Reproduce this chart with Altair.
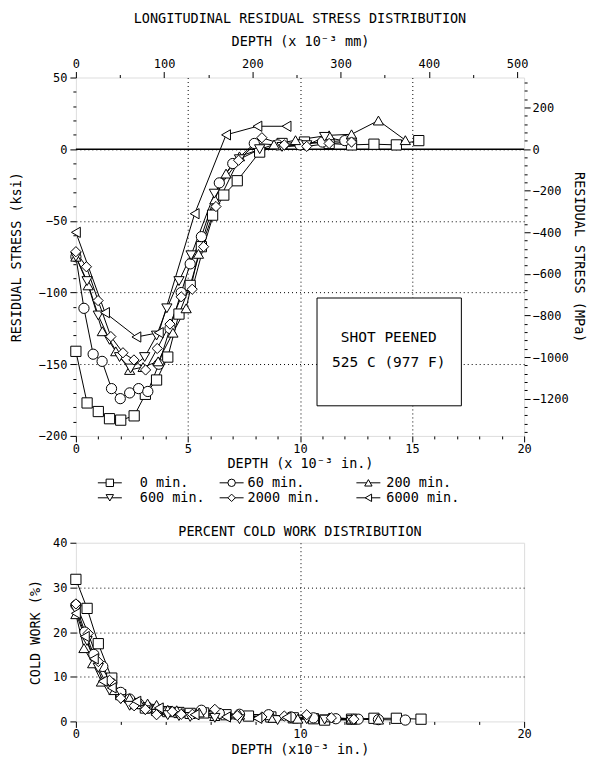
import altair as alt
import pandas as pd

FONT = "DejaVu Sans Mono"
SERIES = ["0 min.", "60 min.", "200 min.", "600 min.", "2000 min.", "6000 min."]
SHAPES = ["square", "circle", "triangle-up", "triangle-down", "diamond", "triangle-left"]

# ---- Longitudinal residual stress (ksi) vs depth (x10^-3 in.) ----
rs_d_0 = [0, 0.5, 1.0, 1.5, 2.0, 2.6, 3.1, 3.6, 4.1, 4.6, 5.1, 5.6, 6.1, 6.6, 7.2, 8.2, 9.2, 10.2, 11.3, 12.3, 13.3, 14.3, 15.3]
rs_s_0 = [-141, -177, -183, -188, -189, -186, -171, -161, -145, -115, -95, -68, -46, -32, -22, -2, 4, 5, 4, 3, 3.5, 3, 6]
rs_d_60 = [0, 0.36, 0.77, 1.17, 1.59, 1.98, 2.4, 2.8, 3.21, 3.7, 4.2, 4.7, 5.1, 5.6, 6.4, 7.0, 7.96, 9.0, 10.0, 11.0, 12.0]
rs_s_60 = [-75, -111, -143, -148, -167, -174, -170, -167, -169, -150, -125, -100, -80, -61, -23.5, -10, 4, 3, 3, 5, 6]
rs_d_200 = [0, 0.55, 1.18, 1.78, 2.4, 3.0, 3.67, 4.33, 4.92, 5.47, 6.2, 6.7, 7.3, 8.84, 9.8, 11.3, 12.3, 13.5, 14.7]
rs_s_200 = [-75, -95, -127, -141, -154, -152, -148, -128, -111, -73, -35, -17, -5, 3.3, 6.3, 9.7, 10.4, 20, 6.3]
rs_d_600 = [0, 0.5, 1.0, 1.5, 1.95, 2.44, 3.07, 3.6, 4.06, 4.6, 5.14, 6.18, 7.3, 8.2, 9.2, 10.3, 11.1, 12.3]
rs_s_600 = [-75, -92, -116, -133, -145, -153, -145, -130, -111, -92, -74, -31, -7, 0, 1.6, 2.8, 8.6, 4.6]
rs_d_2000 = [0, 0.47, 0.99, 1.56, 2.1, 2.59, 3.11, 3.63, 4.2, 4.7, 5.19, 5.7, 6.25, 7.26, 8.3, 9.3, 10.3, 11.3, 12.3]
rs_s_2000 = [-71.5, -82, -105.6, -130.7, -142, -147, -154, -139, -122, -103, -97.7, -68, -40, -7.7, 8, 3, 2, 4, 5]
rs_d_6000 = [0, 1.3, 2.7, 3.7, 5.3, 6.7, 8.1, 9.4]
rs_s_6000 = [-58, -114, -131, -128, -45, 10, 16, 16]

# ---- Percent cold work vs depth (x10^-3 in.) ----
cw_d_0 = [0, 0.5, 1.0, 1.6, 2.0, 2.6, 3.1, 3.6, 4.1, 4.6, 5.1, 5.7, 6.7, 7.7, 8.7, 9.7, 10.6, 11.1, 12.3, 13.3, 14.3, 15.4]
cw_v_0 = [31.8, 25.3, 17.4, 9.7, 6.0, 4.0, 3.0, 2.5, 2.2, 2.0, 1.8, 1.9, 1.5, 1.2, 1.0, 0.8, 0.6, 0.3, 0.5, 0.7, 0.7, 0.5]
cw_d_60 = [0, 0.4, 0.8, 1.2, 1.6, 2.0, 2.4, 2.8, 3.2, 3.6, 4.1, 4.6, 5.6, 6.4, 7.3, 8.6, 9.6, 10.6, 11.6, 12.6, 13.5, 14.7]
cw_v_60 = [26, 20, 15, 12.3, 8.5, 6.5, 5, 4, 3, 2.5, 2.2, 2, 2.5, 1.8, 1.6, 1.5, 1.0, 0.8, 0.6, 0.5, 0.4, 0.3]
cw_d_200 = [0, 0.36, 0.75, 1.14, 1.7, 2.4, 2.8, 3.2, 3.6, 4.1, 4.5, 5.5, 6.2, 7.3, 8.8, 9.9, 11.3, 12.3, 13.5]
cw_v_200 = [24, 16.4, 13, 8.9, 7, 5.2, 4.5, 4, 3.7, 2.6, 2.5, 2, 1.2, 1.5, 0.8, 0.6, 0.9, 0.6, 0.4]
cw_d_600 = [0, 0.5, 1.0, 1.5, 2.0, 2.4, 3.1, 3.6, 4.1, 4.6, 5.1, 6.2, 7.3, 9.0, 10.3, 11.1, 12.3]
cw_v_600 = [25, 18, 12, 7, 5, 3.5, 2.5, 1.7, 1.4, 1.2, 1.0, 0.8, 0.5, 0.3, 0.5, 0.4, 0.3]
cw_d_2000 = [0, 0.55, 1.0, 1.5, 2.0, 2.6, 3.1, 3.6, 4.3, 4.7, 5.2, 6.2, 7.2, 8.3, 9.3, 10.3, 11.4, 12.4]
cw_v_2000 = [26.3, 19.7, 13.4, 9.2, 5.2, 3.5, 2.7, 1.5, 2.2, 1.6, 1.6, 2.7, 1.3, 1.0, 1.2, 1.5, 0.8, 0.5]
cw_d_6000 = [0, 0.4, 0.8, 1.2, 1.6, 2.7, 3.7, 5.3, 6.7, 8.1, 9.4]
cw_v_6000 = [24.2, 19, 14, 9, 7.5, 4.5, 3, 1.5, 1, 0.7, 0.9]

ANNOT_LINES = ["SHOT PEENED", "525 C (977 F)"]

# ---------------- layout / style constants ----------------
W = 449
H1 = 359
H2 = 179
FS = 12      # tick labels
TFS = 13.5   # titles / legend
KSI_TO_MPA = 6.894757
IN_TO_MM = 25.4


def long_df(depths, values):
    rows = []
    for s, dl, vl in zip(SERIES, depths, values):
        for i, (d, v) in enumerate(zip(dl, vl)):
            rows.append({"series": s, "depth": d, "value": v, "i": i})
    return pd.DataFrame(rows)


rs_df = long_df([rs_d_0, rs_d_60, rs_d_200, rs_d_600, rs_d_2000, rs_d_6000],
                [rs_s_0, rs_s_60, rs_s_200, rs_s_600, rs_s_2000, rs_s_6000])
cw_df = long_df([cw_d_0, cw_d_60, cw_d_200, cw_d_600, cw_d_2000, cw_d_6000],
                [cw_v_0, cw_v_60, cw_v_200, cw_v_600, cw_v_2000, cw_v_6000])

AX = dict(labelFont=FONT, titleFont=FONT, labelFontSize=FS, titleFontSize=TFS,
          titleFontWeight="normal", labelColor="black", titleColor="black",
          tickColor="black", labelOverlap=False, labelFlush=False, domain=False,
          tickWidth=1, format="d")


def cond(test, a, b):
    return {"condition": {"test": test, "value": a}, "value": b}


def make_axis(orient, title, values, major, lo=None, hi=None, grid=False, **kw):
    major_test = f"datum.value % {major} === 0"
    params = dict(AX)
    params.update(kw)
    ax = dict(orient=orient, title=title, values=values,
              labelExpr=f"{major_test} ? datum.label : ''",
              tickSize=cond(major_test, 6, 3), **params)
    if grid:
        ax.update(grid=True, gridColor="black", gridDash=[1, 3], gridWidth=1,
                  gridOpacity=cond(f"{major_test} && datum.value > {lo} && datum.value < {hi}", 1, 0))
    else:
        ax.update(grid=False)
    return alt.Axis(**ax)


x_in = alt.Scale(domain=[0, 20], nice=False, zero=False)
y_ksi = alt.Scale(domain=[-200, 50], nice=False, zero=False)
x_mm = alt.Scale(domain=[0, 20 * IN_TO_MM], nice=False, zero=False)
y_mpa = alt.Scale(domain=[-200 * KSI_TO_MPA, 50 * KSI_TO_MPA], nice=False, zero=False)
shape_scale = alt.Scale(domain=SERIES, range=SHAPES)

ax_bottom1 = make_axis("bottom", "DEPTH (x 10⁻³ in.)", list(range(0, 21)), 5, 0, 20, grid=True,
                       labelPadding=2, titlePadding=2)
ax_left1 = make_axis("left", "RESIDUAL STRESS (ksi)", list(range(-200, 51, 10)), 50, -200, 50, grid=True,
                     labelPadding=3, titlePadding=15)
ax_top1 = make_axis("top", "DEPTH (x 10⁻³ mm)", list(range(0, 501, 50)), 100,
                    labelPadding=1, titlePadding=9)
ax_right1 = make_axis("right", "RESIDUAL STRESS (MPa)", list(range(-1360, 321, 40)), 200,
                      labelPadding=2, titlePadding=3)

base1 = alt.Chart(rs_df)
lines1 = base1.mark_line(color="black", strokeWidth=1).encode(
    x=alt.X("depth:Q", scale=x_in, axis=ax_bottom1),
    y=alt.Y("value:Q", scale=y_ksi, axis=ax_left1),
    detail="series:N",
    order="i:Q",
)
points1 = base1.mark_point(filled=True, fill="white", stroke="black", strokeWidth=1,
                           size=105, opacity=1).encode(
    x=alt.X("depth:Q", scale=x_in, axis=None),
    y=alt.Y("value:Q", scale=y_ksi, axis=None),
    shape=alt.Shape("series:N", scale=shape_scale, legend=None),
)
zero_df = pd.DataFrame({"zero": [0]})
zero_rule = alt.Chart(zero_df).mark_rule(color="black", strokeWidth=1.5).encode(
    y=alt.Y("zero:Q", scale=y_ksi, axis=None),
)
box_df = pd.DataFrame({"x1": [10.76], "x2": [17.2], "y1": [-103.8], "y2": [-179]})
box = alt.Chart(box_df).mark_rect(fill="white", stroke="black", strokeWidth=1).encode(
    x=alt.X("x1:Q", scale=x_in, axis=None), x2="x2:Q",
    y=alt.Y("y1:Q", scale=y_ksi, axis=None), y2="y2:Q",
)
annot_df = pd.DataFrame({"text": ANNOT_LINES, "xd": [13.96, 13.96], "ys": [-131.5, -149]})
annot = alt.Chart(annot_df).mark_text(font=FONT, fontSize=14.5, color="black").encode(
    x=alt.X("xd:Q", scale=x_in, axis=None),
    y=alt.Y("ys:Q", scale=y_ksi, axis=None),
    text="text:N",
)
sec_df = pd.DataFrame({"mm": [0], "mpa": [0]})
sec_axes = alt.Chart(sec_df).mark_point(opacity=0).encode(
    x=alt.X("mm:Q", scale=x_mm, axis=ax_top1),
    y=alt.Y("mpa:Q", scale=y_mpa, axis=ax_right1),
)

top = alt.layer(lines1, zero_rule, points1, box, annot, sec_axes).resolve_scale(
    x="independent", y="independent"
).properties(
    width=W, height=H1,
    title=alt.TitleParams("LONGITUDINAL RESIDUAL STRESS DISTRIBUTION", font=FONT, fontSize=TFS,
                          fontWeight="normal", color="black", offset=9),
)

# ---------------- legend (line + marker samples) ----------------
SYM_X = [34, 156, 293]
TXT_X = [64, 172, 311]
ROW_Y = [6, 21]
LEG_H = 43
HALF = 12
leg_df = pd.DataFrame({"series": SERIES, "k": list(range(len(SERIES)))})
leg_base = alt.Chart(leg_df).transform_calculate(
    col="datum.k % 3", row="floor(datum.k / 3)"
).transform_calculate(
    sx=f"{SYM_X}[datum.col]", tx=f"{TXT_X}[datum.col]", ry=f"{ROW_Y}[datum.row]"
).transform_calculate(
    sx1=f"datum.sx - {HALF}", sx2=f"datum.sx + {HALF}"
)
lx = alt.Scale(domain=[0, W], nice=False, zero=False)
ly = alt.Scale(domain=[0, LEG_H], nice=False, zero=False, reverse=True)
leg_line = leg_base.mark_rule(color="black", strokeWidth=1).encode(
    x=alt.X("sx1:Q", scale=lx, axis=None), x2="sx2:Q",
    y=alt.Y("ry:Q", scale=ly, axis=None),
)
leg_sym = leg_base.mark_point(filled=True, fill="white", stroke="black", strokeWidth=1,
                              size=55, opacity=1).encode(
    x=alt.X("sx:Q", scale=lx, axis=None),
    y=alt.Y("ry:Q", scale=ly, axis=None),
    shape=alt.Shape("series:N", scale=shape_scale, legend=None),
)
leg_txt = leg_base.mark_text(font=FONT, fontSize=TFS, color="black", align="left",
                             baseline="middle").encode(
    x=alt.X("tx:Q", scale=lx, axis=None),
    y=alt.Y("ry:Q", scale=ly, axis=None),
    text="series:N",
)
legend = alt.layer(leg_line, leg_sym, leg_txt).properties(
    width=W, height=LEG_H, view=alt.ViewBackground(stroke="transparent")
)

# ---------------- cold work ----------------
ax_bottom2 = make_axis("bottom", "DEPTH (x10⁻³ in.)", list(range(0, 21)), 5, 0, 20, grid=True,
                       labelPadding=1, titlePadding=3)
ax_left2 = make_axis("left", "COLD WORK (%)", list(range(0, 41, 5)), 10, 0, 40, grid=True,
                     labelPadding=3, titlePadding=10)
x_in2 = alt.Scale(domain=[0, 20], nice=False, zero=False)
y_cw = alt.Scale(domain=[0, 40], nice=False, zero=False)
base2 = alt.Chart(cw_df)
lines2 = base2.mark_line(color="black", strokeWidth=1).encode(
    x=alt.X("depth:Q", scale=x_in2, axis=ax_bottom2),
    y=alt.Y("value:Q", scale=y_cw, axis=ax_left2),
    detail="series:N",
    order="i:Q",
)
points2 = base2.mark_point(filled=True, fill="white", stroke="black", strokeWidth=1,
                           size=105, opacity=1).encode(
    x=alt.X("depth:Q", scale=x_in2),
    y=alt.Y("value:Q", scale=y_cw),
    shape=alt.Shape("series:N", scale=shape_scale, legend=None),
)
bottom = alt.layer(lines2, points2).properties(
    width=W, height=H2,
    title=alt.TitleParams("PERCENT COLD WORK DISTRIBUTION", font=FONT, fontSize=TFS,
                          fontWeight="normal", color="black", offset=-2),
)

chart = alt.vconcat(top, legend, bottom, spacing=4).properties(
    padding={"left": 0, "top": 3, "right": 3, "bottom": 0}
).configure_view(stroke="black", strokeWidth=1.5).configure(background="white")

chart.save("out.html", embed_options={"renderer": "svg", "actions": False})
